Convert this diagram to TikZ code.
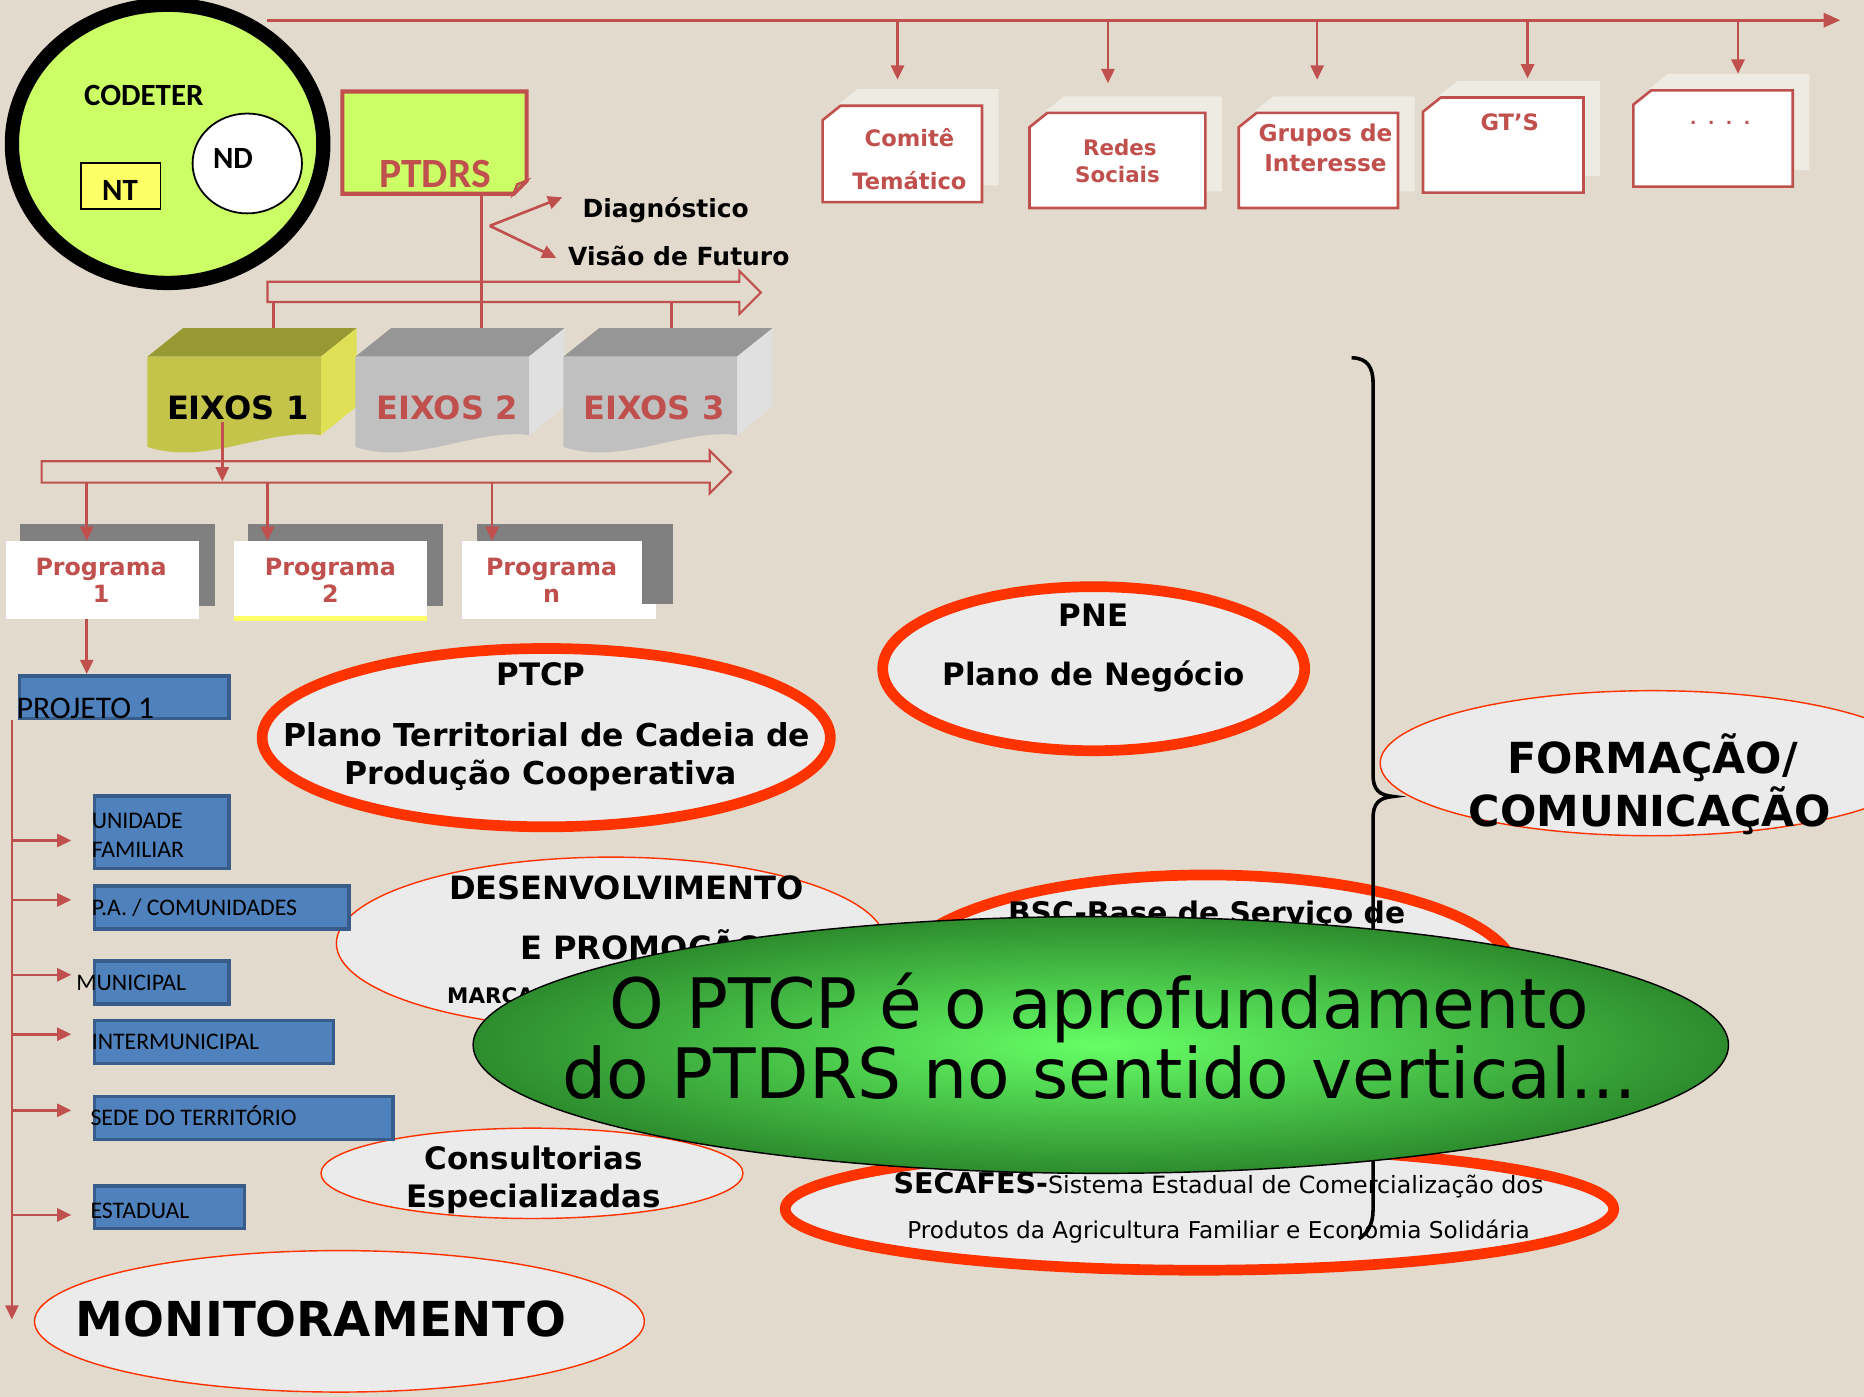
\documentclass[tikz,border=0pt]{standalone}
\usepackage{fontspec}
\setmainfont{DejaVu Sans}
\newfontfamily\carl{Carlito}
\usetikzlibrary{arrows.meta}
\definecolor{bg}{RGB}{226,218,204}
\definecolor{cred}{RGB}{192,80,77}
\definecolor{ored}{RGB}{255,51,0}
\definecolor{lime}{RGB}{204,255,102}
\definecolor{nty}{RGB}{255,255,102}
\definecolor{elfill}{RGB}{235,235,235}
\definecolor{bfill}{RGB}{79,129,189}
\definecolor{bline}{RGB}{56,93,138}
\definecolor{shad}{RGB}{237,235,226}
\definecolor{pgray}{RGB}{128,128,128}
\definecolor{exaf}{RGB}{197,196,74}
\definecolor{exat}{RGB}{153,153,51}
\definecolor{exas}{RGB}{224,224,86}
\definecolor{exbf}{RGB}{192,192,192}
\definecolor{exbt}{RGB}{150,150,150}
\definecolor{exbs}{RGB}{224,224,224}
\definecolor{gin}{RGB}{102,255,102}
\definecolor{gout}{RGB}{45,140,45}
\newcommand\fsz[1]{\fontsize{#1}{#1}\selectfont}
\newcommand\cardbox[5]{%
 \fill[cardshadow] (#2+14,#3-2) -- (#2+29,#3-14) -- (#4+14,#3-14) -- (#4+14,#5-14) -- (#2+14,#5-14) -- cycle;
 \draw[card] (#2,#3+12) -- (#2+15,#3) -- (#4,#3) -- (#4,#5) -- (#2,#5) -- cycle;
}
\newcommand\eixo[4]{%
 \fill[#3] (#1,300) -- (#1+30,276) -- (#1+176,276) -- (#1+146,300) -- cycle;
 \fill[#4] (#1+146,300) -- (#1+176,276) -- (#1+176,342) -- (#1+146,366) -- cycle;
 \fill[#2] (#1,300) -- (#1+146,300) -- (#1+146,366) .. controls (#1+100,360) and (#1+50,392) .. (#1,376) -- cycle;
}
\tikzset{
 conn/.style={draw=cred, line width=2.2pt, -{Triangle[length=12pt,width=11pt]}},
 plainln/.style={draw=cred, line width=2.2pt},
 blockarr/.style={draw=cred, line width=1.8pt, line join=miter},
 lbl/.style={inner sep=0pt, anchor=base},
 lblw/.style={inner sep=0pt, anchor=base west},
 card/.style={draw=cred, line width=2.2pt, fill=white},
 cardshadow/.style={fill=shad},
 cardtxt/.style={lbl, text=cred, font=\bfseries\fsz{19}},
 progtxt/.style={lbl, text=cred, font=\bfseries\fsz{20}},
 thickell/.style={draw=ored, line width=9pt, fill=elfill},
 thinell/.style={draw=ored, line width=1.2pt, fill=elfill},
 bluebox/.style={draw=bline, line width=3pt, fill=bfill},
 bluetxt/.style={lblw, font=\carl\fsz{20}},
 elltxt/.style={lbl, font=\bfseries\fsz{26}},
}
\begin{document}
\begin{tikzpicture}[x=1pt,y=-1pt]
\useasboundingbox (0,0) rectangle (1568,1175);
\fill[bg] (0,0) rectangle (1568,1175);
\clip (0,0) rectangle (1568,1175);

% ---- top bus line with cards
\coordinate (tl0) at (225,17);
\coordinate (tl1) at (1548,17);
\draw[plainln, -{Triangle[length=14pt,width=12pt]}] (tl0) -- (tl1);
\cardbox{comite}{692}{89}{826}{170}
\cardbox{redes}{866}{95}{1014}{175}
\cardbox{grupos}{1042}{95}{1176}{175}
\cardbox{gts}{1197}{82}{1332}{162}
\cardbox{dots}{1374}{76}{1508}{157}
\coordinate (b1) at (755,17);  \coordinate (b1e) at (755,67);
\coordinate (b2) at (932,17);  \coordinate (b2e) at (932,70);
\coordinate (b3) at (1108,17); \coordinate (b3e) at (1108,67);
\coordinate (b4) at (1285,17); \coordinate (b4e) at (1285,66);
\coordinate (b5) at (1462,17); \coordinate (b5e) at (1462,62);
\foreach \a in {1,...,5} \draw[conn] (b\a) -- (b\a e);
\node[cardtxt] (comite1) at (765,123) {Comitê};
\node[cardtxt] (comite2) at (765,159) {Temático};
\node[cardtxt, font=\bfseries\fsz{18}] (redes1) at (942,130.5) {Redes};
\node[cardtxt, font=\bfseries\fsz{18}] (redes2) at (940,153.5) {Sociais};
\node[cardtxt, font=\bfseries\fsz{19.5}] (grupos1) at (1115,119) {Grupos de};
\node[cardtxt, font=\bfseries\fsz{19.5}] (grupos2) at (1115,144) {Interesse};
\node[cardtxt] (gts1) at (1270,110) {GT'S};
\node[cardtxt, font=\bfseries\fsz{14}] (dots1) at (1447,105) {.\ \ .\ \ .\ \ .};

% ---- CODETER
\draw[black, line width=12pt, fill=lime] (141,121) ellipse [x radius=131, y radius=117];
\node[lbl, font=\carl\bfseries\fsz{26}] (codeter) at (121,89) {CODETER};
\draw[black, line width=1.5pt, fill=nty] (68,137) rectangle (135,176);
\node[lbl, font=\carl\bfseries\fsz{26}] (nt) at (101,169) {NT};
\draw[black, line width=1.5pt, fill=white] (208,137.5) ellipse [x radius=46, y radius=42];
\node[lbl, font=\carl\bfseries\fsz{26}] (nd) at (196,142) {ND};

% ---- PTDRS
\draw[cred, line width=3.5pt, fill=lime, line join=miter] (288,77) -- (443,77) -- (443,152) -- (432,163) -- (288,163) -- cycle;
\draw[cred, line width=2pt, fill=lime!75!black] (432,163) -- (435,155) -- (443,152) -- cycle;
\node[lbl, font=\carl\bfseries\fsz{35}, text=cred] (ptdrs) at (366,158) {PTDRS};
\coordinate (ptdrsb) at (405,163);
\coordinate (ex2top) at (405,276);
\coordinate (dfork) at (412,190);
\coordinate (diagin) at (473,166);
\coordinate (visin) at (468,217);
\draw[conn] (dfork) -- (diagin);
\draw[conn] (dfork) -- (visin);
\node[lbl, font=\bfseries\fsz{21}] (diag) at (560,182.6) {Diagnóstico};
\node[lbl, font=\bfseries\fsz{21}] (visao) at (571,223.6) {Visão de Futuro};

% ---- block arrow 1 + EIXOS
\draw[blockarr] (225,237) -- (622,237) -- (622,228) -- (640,246) -- (622,264) -- (622,254) -- (225,254) -- cycle;
\coordinate (a1l) at (230,254); \coordinate (ex1top) at (230,276);
\coordinate (a1r) at (565,254); \coordinate (ex3top) at (565,276);
\draw[plainln] (ptdrsb) -- (ex2top);
\draw[plainln] (a1l) -- (ex1top);
\draw[plainln] (a1r) -- (ex3top);
\eixo{124}{exaf}{exat}{exas}
\eixo{299}{exbf}{exbt}{exbs}
\eixo{474}{exbf}{exbt}{exbs}
\node[lbl, font=\bfseries\fsz{27}] (eixo1) at (200,352.7) {EIXOS 1};
\node[lbl, font=\bfseries\fsz{27}, text=cred] (eixo2) at (376,352.7) {EIXOS 2};
\node[lbl, font=\bfseries\fsz{27}, text=cred] (eixo3) at (550,352.7) {EIXOS 3};

% ---- block arrow 2 + programs
\draw[blockarr] (35,388) -- (597,388) -- (597,379) -- (615,397) -- (597,415) -- (597,406) -- (35,406) -- cycle;
\coordinate (e1out) at (187,355); \coordinate (a2in) at (187,405);
\draw[conn] (e1out) -- (a2in);
\fill[pgray] (17,441) rectangle (181,510);
\fill[white] (5,455) rectangle (167,521);
\fill[pgray] (209,441) rectangle (373,510);
\fill[white] (197,455) rectangle (359,521);
\fill[nty] (197,518) rectangle (359,522);
\fill[pgray] (401,441) rectangle (566,508);
\fill[white] (389,455) rectangle (540,521);
\fill[white] (539,508) rectangle (552,521);
\coordinate (p1a) at (73,406);  \coordinate (p1t) at (73,455);
\coordinate (p2a) at (225,406); \coordinate (p2t) at (225,455);
\coordinate (p3a) at (414,406); \coordinate (p3t) at (414,455);
\draw[conn] (p1a) -- (p1t);
\draw[conn] (p2a) -- (p2t);
\draw[conn] (p3a) -- (p3t);
\node[progtxt] (prog1a) at (85,484) {Programa};
\node[progtxt] (prog1b) at (85,507) {1};
\node[progtxt] (prog2a) at (278,484) {Programa};
\node[progtxt] (prog2b) at (278,507) {2};
\node[progtxt] (prog3a) at (464,484) {Programa};
\node[progtxt] (prog3b) at (464,507) {n};

% ---- ellipses
\draw[thickell] (459.5,620.5) ellipse [x radius=239, y radius=75];
\node[elltxt] (ptcp1) at (455,577) {PTCP};
\node[elltxt, font=\bfseries\fsz{26.5}] (ptcp2) at (460,628) {Plano Territorial de Cadeia de};
\node[elltxt, font=\bfseries\fsz{26.5}] (ptcp3) at (455,660) {Produção Cooperativa};
\draw[thickell] (920,562.5) ellipse [x radius=177.5, y radius=69];
\node[elltxt] (pne1) at (920,527) {PNE};
\node[elltxt] (pne2) at (920,577) {Plano de Negócio};
\draw[thinell] (514,793.5) ellipse [x radius=231, y radius=72.5];
\node[elltxt, font=\bfseries\fsz{27}] (des1) at (527,757) {DESENVOLVIMENTO};
\node[elltxt, font=\bfseries\fsz{27}] (des2) at (540,807) {E PROMOÇÃO};
\node[lblw, font=\bfseries\fsz{18}] (des3) at (376,844.5) {MARCA};
\draw[thinell] (447.5,987) ellipse [x radius=177.5, y radius=38];
\node[elltxt] (cons1) at (449,984) {Consultorias};
\node[elltxt] (cons2) at (449,1016) {Especializadas};
\draw[thinell] (285.5,1111.5) ellipse [x radius=256.5, y radius=59.5];
\node[elltxt, font=\bfseries\fsz{40.5}] (moni) at (270,1124) {MONITORAMENTO};
\draw[thinell] (1390,642) ellipse [x radius=229, y radius=61];
\node[elltxt, font=\bfseries\fsz{36}] (form1) at (1390,651) {FORMAÇÃO/};
\node[elltxt, font=\bfseries\fsz{36}] (form2) at (1388,695) {COMUNICAÇÃO};
\draw[thickell] (1015,820) ellipse [x radius=260, y radius=84];
\node[elltxt, font=\bfseries\fsz{25}] (bsc) at (1015,777) {BSC-Base de Serviço de};
\draw[thickell] (1009,1017) ellipse [x radius=348.5, y radius=51.5];
\node[lbl] (sec1) at (1025,1004) {{\bfseries\fsz{24}SECAFES-}{\fsz{20}Sistema Estadual de Comercialização dos}};
\node[lbl, font=\fsz{19.5}] (sec2) at (1025,1042) {Produtos da Agricultura Familiar e Economia Solidária};

% ---- project column
\coordinate (p1out) at (73,521); \coordinate (projin) at (73,567);
\draw[conn] (p1out) -- (projin);
\draw[bluebox] (16.5,568.5) rectangle (192.5,604.5);
\node[lblw, font=\carl\fsz{26.5}] (proj) at (14,604) {PROJETO 1};
\draw[bluebox] (79.5,669.5) rectangle (192.5,730.5);
\draw[bluebox] (79.5,745.5) rectangle (293.5,781.5);
\draw[bluebox] (79.5,808.5) rectangle (192.5,844.5);
\draw[bluebox] (79.5,858.5) rectangle (280.5,894.5);
\draw[bluebox] (79.5,922.5) rectangle (330.5,958.5);
\draw[bluebox] (79.5,997.5) rectangle (205.5,1033.5);
\node[bluetxt] (uf1) at (77,697) {UNIDADE};
\node[bluetxt] (uf2) at (77,721) {FAMILIAR};
\node[bluetxt] (pa) at (77,770) {P.A. / COMUNIDADES};
\node[bluetxt] (mun) at (64,833) {MUNICIPAL};
\node[bluetxt] (inter) at (77,883) {INTERMUNICIPAL};
\node[bluetxt] (sede) at (76,947) {SEDE DO TERRITÓRIO};
\node[bluetxt] (est) at (76,1025) {ESTADUAL};
\coordinate (vtop) at (10,606); \coordinate (vbot) at (10,1110);
\draw[conn] (vtop) -- (vbot);
\foreach \yy in {707,757,820,870,934,1022} {
  \coordinate (hs\yy) at (10,\yy); \coordinate (he\yy) at (60,\yy);
  \draw[conn] (hs\yy) -- (he\yy);
}

% ---- brace
\draw[black, line width=3pt] (1137,301) .. controls (1150,301) and (1155,309) .. (1155,322) -- (1155,652) .. controls (1155,664) and (1160,669) .. (1172,670) .. controls (1160,671) and (1155,676) .. (1155,688) -- (1155,1018) .. controls (1155,1030) and (1150,1038) .. (1143,1042);

% ---- green ellipse
\shadedraw[draw=black, line width=1.2pt, inner color=gin, outer color=gout] (926,879) ellipse [x radius=528, y radius=108];
\node[lbl, font=\fsz{58.5}] (g1) at (925,865) {O PTCP é o aprofundamento};
\node[lbl, font=\fsz{58.5}] (g2) at (925,924) {do PTDRS no sentido vertical...};
\end{tikzpicture}
\end{document}
